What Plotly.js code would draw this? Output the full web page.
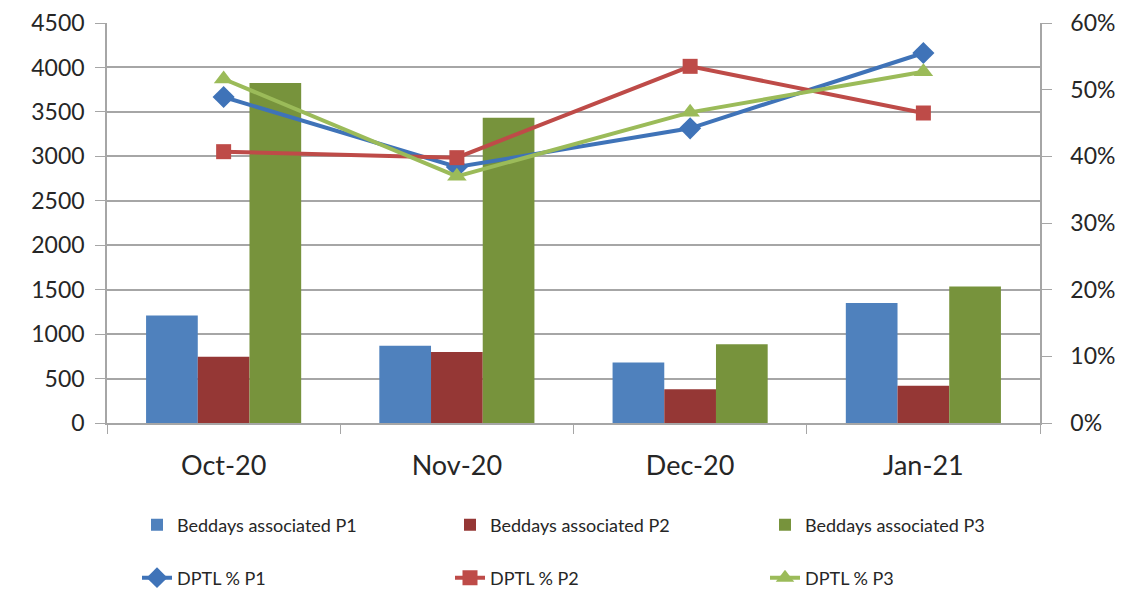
<!DOCTYPE html>
<html>
<head>
<meta charset="utf-8">
<script src="https://cdn.plot.ly/plotly-3.0.1.min.js"></script>
<style>html,body{margin:0;padding:0;background:#fff;}#chart{width:1126px;height:590px;}</style>
</head>
<body>
<div id="chart"></div>
<script>
const months = ["Oct-20", "Nov-20", "Dec-20", "Jan-21"];
const beddaysP1 = [1210, 870, 680, 1350];
const beddaysP2 = [745, 800, 380, 420];
const beddaysP3 = [3825, 3435, 885, 1535];
const dptlP1 = [0.489, 0.384, 0.442, 0.555];
const dptlP2 = [0.407, 0.398, 0.535, 0.465];
const dptlP3 = [0.516, 0.370, 0.466, 0.527];

const barNames = ["Beddays associated P1", "Beddays associated P2", "Beddays associated P3"];
const lineNames = ["DPTL % P1", "DPTL % P2", "DPTL % P3"];

const barColors = ["#4F81BD", "#953735", "#77933C"];
const lineColors = ["#3F73B8", "#BE4B48", "#9BBB59"];
const symbols = ["diamond", "square", "triangle-up"];

const barData = [beddaysP1, beddaysP2, beddaysP3];
const lineData = [dptlP1, dptlP2, dptlP3];

const legendKeys = ["legend", "legend2", "legend3", "legend4", "legend5", "legend6"];

const traces = [];
barData.forEach((vals, i) => {
  traces.push({
    type: "bar", x: months, y: vals, name: barNames[i],
    marker: {color: barColors[i]}, legend: legendKeys[i], hoverinfo: "x+y+name"
  });
});
lineData.forEach((vals, i) => {
  traces.push({
    type: "scatter", mode: "lines+markers", x: months, y: vals, name: lineNames[i],
    yaxis: "y2", legend: legendKeys[3 + i],
    line: {color: lineColors[i], width: 4},
    marker: {symbol: symbols[i], size: i === 1 ? 15 : 17, color: lineColors[i]}
  });
});

const gridCol = "#a6a6a6";
const layout = {
  width: 1126, height: 590,
  paper_bgcolor: "#ffffff", plot_bgcolor: "#ffffff",
  margin: {l: 107, r: 86, t: 22.5, b: 167},
  font: {family: "Lato, 'Open Sans', sans-serif", color: "#262626"},
  barmode: "group", bargap: 0.335, bargroupgap: 0,
  showlegend: true,
  xaxis: {
    type: "category", tickson: "boundaries", ticks: "outside", ticklen: 9,
    tickcolor: gridCol, showline: true, linecolor: gridCol, linewidth: 1.5,
    showgrid: false, tickfont: {size: 27, color: "#262626"}, ticklabelstandoff: 18
  },
  yaxis: {
    range: [0, 4500], dtick: 500, tick0: 0, ticks: "outside", ticklen: 10,
    tickcolor: gridCol, showline: true, linecolor: gridCol, linewidth: 1.5,
    showgrid: true, gridcolor: gridCol, gridwidth: 1.5, zeroline: false,
    tickfont: {size: 23, color: "#262626"}, ticklabelstandoff: 6
  },
  yaxis2: {
    overlaying: "y", side: "right", range: [0, 0.6], dtick: 0.1, tick0: 0,
    tickformat: ".0%", ticks: "outside", ticklen: 10, tickcolor: gridCol,
    showline: true, linecolor: gridCol, linewidth: 1.5, showgrid: false, zeroline: false,
    tickfont: {size: 23, color: "#262626"}, ticklabelstandoff: 14
  }
};

const colX = [137, 450, 765];
const rowY = [525, 578];
legendKeys.forEach((key, k) => {
  layout[key] = {
    orientation: "h", xref: "container", yref: "container",
    x: colX[k % 3] / 1126, xanchor: "left",
    y: 1 - rowY[Math.floor(k / 3)] / 590, yanchor: "middle",
    itemwidth: 30, font: {size: 18, color: "#262626"}, bgcolor: "rgba(0,0,0,0)"
  };
});

Plotly.newPlot("chart", traces, layout, {displayModeBar: false, responsive: false});
</script>
</body>
</html>
